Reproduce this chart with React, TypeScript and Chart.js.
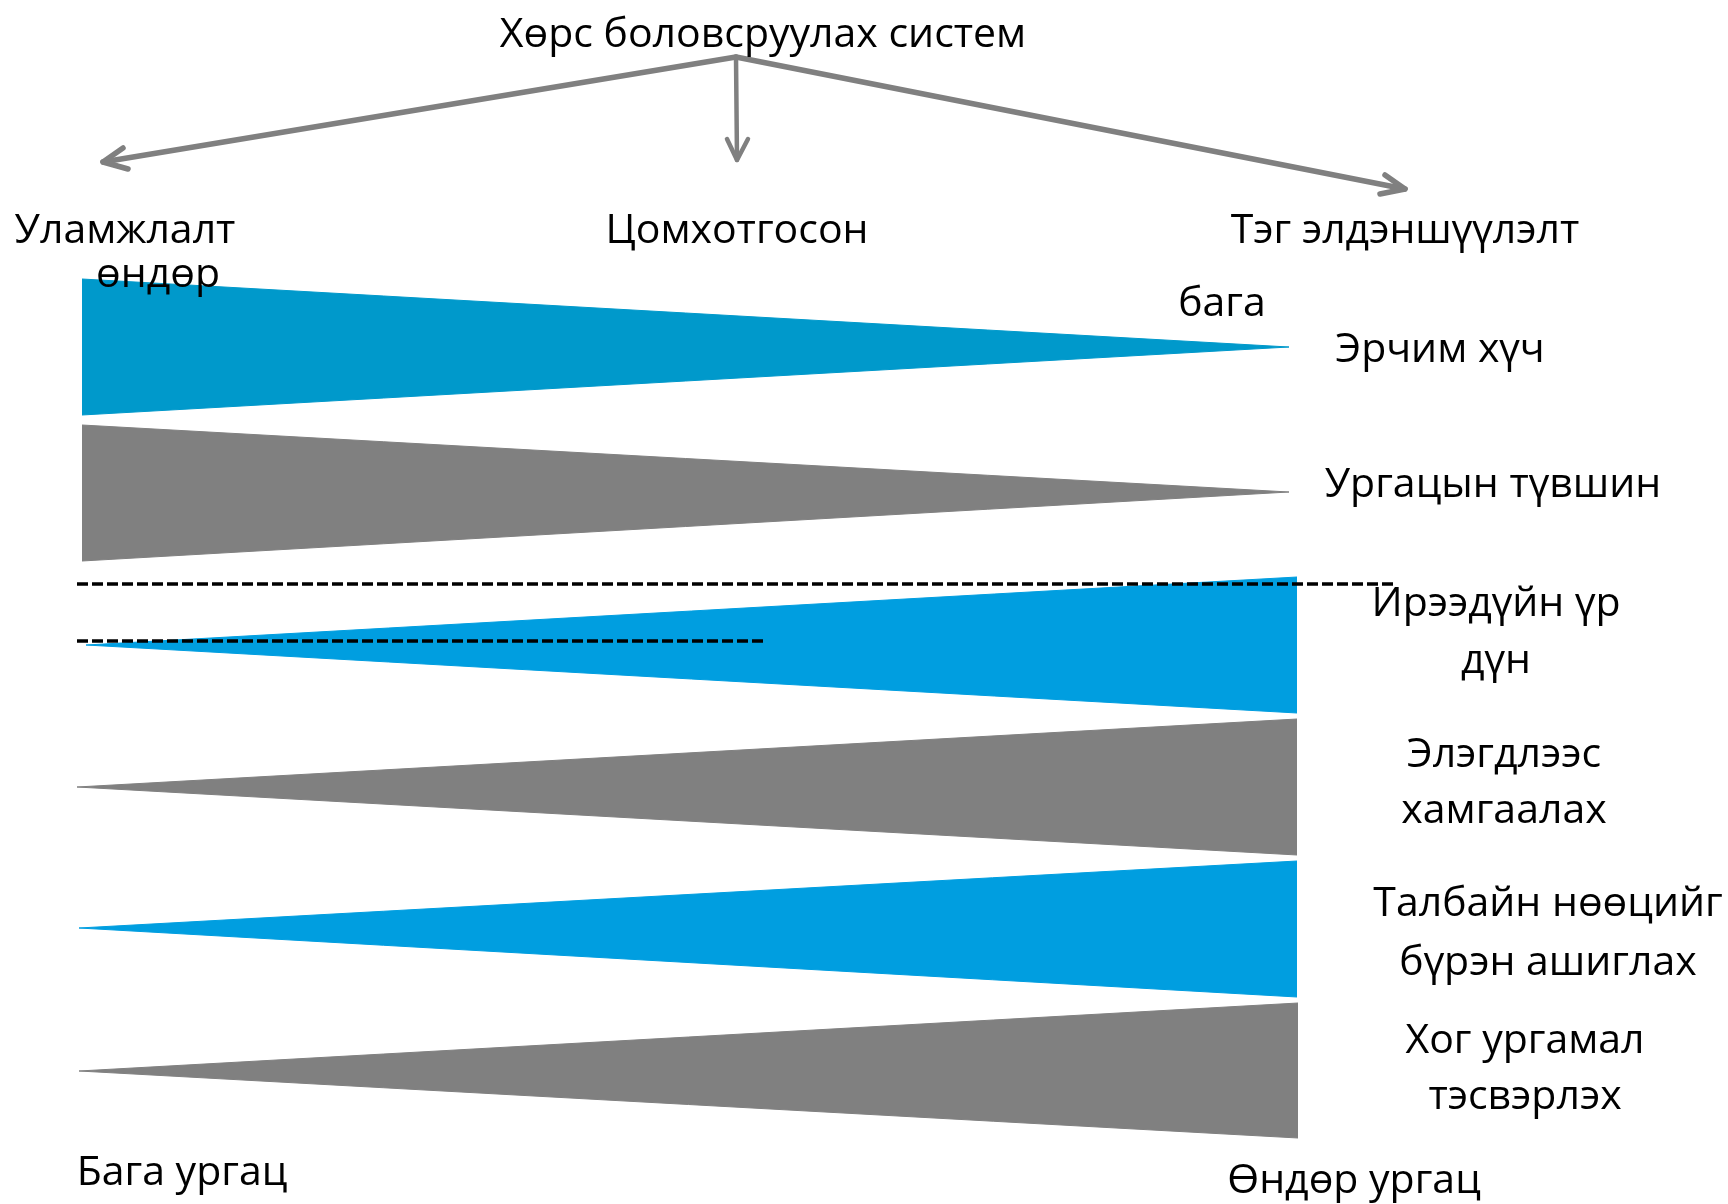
import React, { useEffect, useRef } from "react";
import { Chart, registerables } from "chart.js";

Chart.register(...registerables);

// ---- Data (texts / categories) ----
const systemTitle = "Хөрс боловсруулах систем";
const systems = ["Уламжлалт", "Цомхотгосон", "Тэг элдэншүүлэлт"];
const indicators: string[][] = [
  ["Эрчим хүч"],
  ["Ургацын түвшин"],
  ["Ирээдүйн үр", "дүн"],
  ["Элэгдлээс", "хамгаалах"],
  ["Талбайн нөөцийг", "бүрэн ашиглах"],
  ["Хог ургамал", "тэсвэрлэх"],
];
// "high" side of each indicator: left (traditional) or right (zero tillage)
const indicatorHighSide = ["left", "left", "right", "right", "right", "right"];
const levelLabels = ["өндөр", "бага"];
const yieldLabels = ["Бага ургац", "Өндөр ургац"];

// ---- Layout (canvas-like coordinate system used by the scales) ----
const W = 1728;
const H = 1204;
const BLUE_A = "#0099cb";
const BLUE_B = "#009ee0";
const GRAY = "#808080";
const rowColors = [BLUE_A, GRAY, BLUE_B, GRAY, BLUE_B, GRAY];
// per row: wide-side x, tip x, top y, bottom y, tip y
const rowGeom = [
  { wideX: 82, tipX: 1289, top: 279, bottom: 415, tipY: 347 },
  { wideX: 82, tipX: 1289, top: 425, bottom: 561, tipY: 492 },
  { wideX: 1297, tipX: 86, top: 577, bottom: 713, tipY: 645 },
  { wideX: 1297, tipX: 77, top: 719, bottom: 855, tipY: 787 },
  { wideX: 1297, tipX: 79, top: 861, bottom: 997, tipY: 928 },
  { wideX: 1298, tipX: 79, top: 1003, bottom: 1138, tipY: 1071 },
];
const indicatorPos = [
  { x: 1440, y: [362] },
  { x: 1493, y: [497] },
  { x: 1496, y: [616, 673] },
  { x: 1504, y: [767, 823] },
  { x: 1548, y: [916, 975] },
  { x: 1525, y: [1053, 1109] },
];
const arrowOrigin = { x: 736, y: 57 };
const arrows = [
  { tip: { x: 103, y: 162 }, a: { x: 123, y: 148 }, b: { x: 128, y: 169 }, w: 5.5 },
  { tip: { x: 737, y: 160 }, a: { x: 727, y: 139 }, b: { x: 748, y: 139 }, w: 4.5 },
  { tip: { x: 1405, y: 189 }, a: { x: 1385, y: 175 }, b: { x: 1380, y: 194 }, w: 5.5 },
];
const dashes = [
  { x1: 77, x2: 1393, y: 584 },
  { x1: 77, x2: 764, y: 641 },
];
const FONT = "41px 'Open Sans'";

type Lbl = { t: string; x: number; y: number };
const texts: Lbl[] = [
  { t: systemTitle, x: 763, y: 47 },
  { t: systems[0], x: 125, y: 243 },
  { t: systems[1], x: 737, y: 243 },
  { t: systems[2], x: 1405, y: 243 },
  { t: levelLabels[0], x: 158, y: 287 },
  { t: levelLabels[1], x: 1222, y: 316 },
  { t: yieldLabels[0], x: 182, y: 1185 },
  { t: yieldLabels[1], x: 1354, y: 1193 },
];
indicators.forEach((lines, i) => {
  lines.forEach((t, j) => texts.push({ t, x: indicatorPos[i].x, y: indicatorPos[i].y[j] }));
});

const textPlugin = {
  id: "diagramText",
  afterDatasetsDraw(chart: any) {
    const { ctx, scales } = chart;
    ctx.save();
    ctx.fillStyle = "#000";
    ctx.font = FONT;
    ctx.textAlign = "center";
    ctx.textBaseline = "alphabetic";
    texts.forEach((l) => {
      ctx.fillText(l.t, scales.x.getPixelForValue(l.x), scales.y.getPixelForValue(l.y));
    });
    ctx.restore();
  },
};

function buildDatasets() {
  const ds: any[] = [];
  // dashed lines on top
  dashes.forEach((d) => {
    ds.push({
      data: [
        { x: d.x1, y: d.y },
        { x: d.x2, y: d.y },
      ],
      borderColor: "#000",
      borderWidth: 3.5,
      borderDash: [11, 4],
      pointRadius: 0,
      fill: false,
      order: 0,
    });
  });
  // arrows
  arrows.forEach((a) => {
    ds.push({
      data: [arrowOrigin, a.tip],
      borderColor: GRAY,
      borderWidth: a.w,
      borderCapStyle: "round",
      pointRadius: 0,
      fill: false,
      order: 1,
    });
    ds.push({
      data: [a.a, a.tip, a.b],
      borderColor: GRAY,
      borderWidth: a.w,
      borderCapStyle: "round",
      borderJoinStyle: "round",
      pointRadius: 0,
      fill: false,
      order: 1,
    });
  });
  // triangles: upper edge filled to lower edge
  rowGeom.forEach((g, i) => {
    const c = rowColors[i];
    const left = indicatorHighSide[i] === "left";
    const upper = left
      ? [
          { x: g.wideX, y: g.top },
          { x: g.tipX, y: g.tipY },
        ]
      : [
          { x: g.tipX, y: g.tipY },
          { x: g.wideX, y: g.top },
        ];
    const lower = left
      ? [
          { x: g.wideX, y: g.bottom },
          { x: g.tipX, y: g.tipY },
        ]
      : [
          { x: g.tipX, y: g.tipY },
          { x: g.wideX, y: g.bottom },
        ];
    ds.push({
      data: upper,
      borderColor: c,
      borderWidth: 1,
      backgroundColor: c,
      pointRadius: 0,
      fill: "+1",
      order: 10,
    });
    ds.push({
      data: lower,
      borderColor: c,
      borderWidth: 1,
      backgroundColor: c,
      pointRadius: 0,
      fill: false,
      order: 10,
    });
  });
  return ds;
}

export default function App() {
  const ref = useRef<HTMLCanvasElement | null>(null);
  useEffect(() => {
    document.body.style.margin = "0";
    const canvas = ref.current!;
    const chart = new Chart(canvas, {
      type: "line",
      data: { datasets: buildDatasets() },
      options: {
        animation: false,
        responsive: false,
        maintainAspectRatio: false,
        devicePixelRatio: 1,
        layout: { padding: 0 },
        plugins: {
          legend: { display: false },
          tooltip: { enabled: false },
          title: { display: false },
        },
        scales: {
          x: { type: "linear", min: 0, max: W, display: false },
          y: { type: "linear", min: 0, max: H, reverse: true, display: false },
        },
      },
      plugins: [textPlugin],
    });
    return () => chart.destroy();
  }, []);
  return (
    <div style={{ width: W, height: H, background: "#fff" }}>
      <canvas ref={ref} width={W} height={H} style={{ display: "block" }} />
    </div>
  );
}
